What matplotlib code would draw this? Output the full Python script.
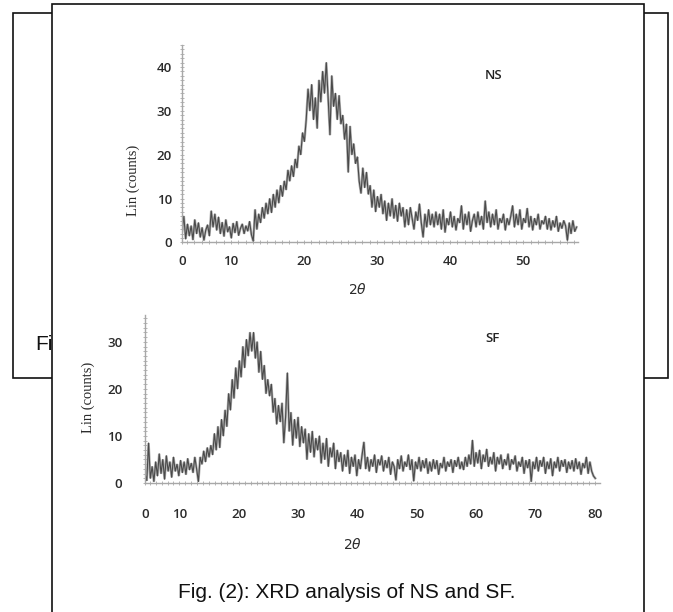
import numpy as np
import matplotlib
matplotlib.use("Agg")
import matplotlib.pyplot as plt
from matplotlib.patches import Rectangle
from matplotlib.ticker import MultipleLocator, FixedLocator, FixedFormatter

# ---------------- data ----------------
ns_start, ns_step = 3.3, 0.25
ns_counts = [
    2.5, 6.0, 0.8, 4.2, 1.5, 3.8, 0.6, 5.2, 2.0, 4.5, 1.2, 3.4, 0.5, 2.8, 4.0, 1.5, 7.2, 3.5, 6.5, 2.8,
    5.8, 2.0, 4.6, 1.4, 5.2, 2.4, 3.6, 1.0, 4.4, 2.2, 4.8, 1.6, 3.2, 4.2, 2.0, 3.8, 2.6, 4.8, 1.8, 0.3,
    7.5, 3.0, 6.5, 4.5, 8.0, 5.5, 9.0, 6.5, 10.0, 6.8, 11.0, 8.0, 12.0, 9.0, 13.0, 10.5, 14.0, 12.0, 16.5, 14.0,
    17.5, 15.0, 19.0, 17.0, 22.0, 20.0, 25.0, 23.0, 28.0, 35.0, 30.0, 36.0, 28.0, 33.0, 26.0, 37.0, 32.0, 39.0, 34.0, 41.0,
    33.0, 24.5, 38.0, 31.0, 34.0, 28.0, 33.5, 27.0, 29.0, 23.5, 27.0, 16.0, 26.5, 20.0, 22.5, 18.0, 19.5, 14.0, 11.2, 17.0,
    12.5, 16.0, 11.0, 13.0, 8.0, 12.0, 7.0, 10.5, 8.0, 11.0, 6.5, 9.5, 5.0, 9.0, 6.0, 10.0, 5.5, 8.5, 4.8, 9.0,
    6.0, 8.0, 3.5, 7.5, 4.0, 8.0, 5.5, 3.0, 7.0, 5.0, 8.8, 4.5, 1.2, 6.5, 3.5, 7.5, 4.0, 6.5, 3.5, 7.0,
    4.0, 6.5, 3.0, 7.5, 2.3, 5.5, 4.0, 7.0, 3.5, 6.0, 2.8, 5.5, 4.5, 8.4, 3.0, 6.5, 4.0, 7.0, 2.5, 5.0,
    6.5, 3.5, 7.0, 4.0, 6.0, 3.0, 9.5, 4.5, 7.0, 3.5, 6.5, 4.0, 7.5, 3.0, 5.5, 4.5, 6.5, 2.8, 5.5, 4.0,
    6.0, 8.4, 3.5, 6.5, 4.0, 7.5, 3.0, 5.5, 4.5, 7.8, 3.5, 6.0, 2.8, 5.5, 4.0, 6.5, 3.0, 5.0, 4.2, 6.0,
    3.0, 5.5, 2.8, 5.0, 3.5, 6.0, 2.5, 4.5, 3.2, 5.0, 3.8, 0.5, 4.5, 2.0, 5.0, 2.5, 3.5,
]

sf_start, sf_step = 4.2, 0.3
sf_counts = [
    2.0, 0.5, 8.5, 1.0, 3.5, 0.3, 4.5, 1.5, 6.2, 2.0, 5.0, 0.8, 5.8, 2.5, 4.5, 1.2, 5.5, 2.5, 4.0, 1.5,
    4.8, 2.2, 4.5, 1.8, 5.2, 2.8, 4.2, 2.2, 5.5, 3.0, 0.3, 5.5, 4.0, 6.8, 4.5, 7.5, 5.5, 8.0, 6.0, 10.5,
    7.0, 12.0, 7.5, 13.5, 10.0, 15.5, 12.0, 19.0, 15.5, 22.0, 18.0, 24.5, 20.0, 26.0, 22.5, 29.0, 24.5, 30.5, 27.0, 32.0,
    28.0, 32.0, 26.5, 30.0, 23.5, 28.0, 22.0, 25.0, 19.0, 22.0, 18.5, 21.0, 15.0, 18.0, 12.5, 16.5, 13.0, 17.0, 8.5, 14.0,
    23.4, 11.0, 15.0, 8.0, 13.5, 9.5, 14.0, 7.7, 12.0, 8.5, 11.5, 5.0, 10.5, 6.5, 11.0, 5.5, 9.5, 7.0, 10.0, 4.2,
    8.5, 5.0, 9.5, 3.5, 7.5, 5.5, 8.5, 3.0, 7.0, 4.5, 6.5, 2.5, 6.0, 3.5, 7.0, 2.0, 5.5, 3.5, 6.0, 1.5,
    5.0, 3.0, 6.0, 8.7, 3.0, 5.5, 2.5, 5.0, 3.5, 6.0, 2.2, 5.0, 3.8, 5.8, 2.5, 4.8, 3.2, 5.5, 1.8, 4.5,
    3.5, 0.6, 5.0, 3.0, 5.8, 2.5, 4.5, 3.5, 6.0, 2.8, 5.0, 0.4, 4.5, 3.0, 5.5, 2.5, 4.8, 3.2, 5.2, 2.0,
    4.5, 2.5, 5.0, 3.0, 4.8, 1.8, 4.2, 3.2, 5.5, 2.5, 4.5, 3.5, 5.0, 2.2, 4.8, 3.5, 5.5, 3.0, 4.5, 2.8,
    5.5, 3.5, 6.0, 4.0, 9.1, 3.5, 6.5, 4.2, 7.0, 3.0, 6.0, 4.5, 7.2, 3.5, 5.5, 4.0, 6.5, 2.5, 5.5, 4.0,
    6.0, 3.0, 5.0, 3.8, 6.2, 2.8, 5.0, 4.0, 5.8, 2.5, 4.5, 3.5, 5.5, 2.0, 4.8, 3.2, 5.0, 0.3, 4.5, 3.0,
    5.5, 2.5, 4.8, 3.5, 5.5, 2.0, 4.5, 3.0, 5.2, 1.5, 4.5, 3.2, 5.5, 2.5, 4.8, 3.5, 5.0, 2.2, 4.5, 3.0,
    4.8, 2.5, 5.2, 3.0, 4.5, 1.8, 4.2, 3.2, 5.5, 2.0, 4.5, 2.5, 1.5, 1.0,
]

ns_theta = ns_start + ns_step * np.arange(len(ns_counts))
sf_theta = sf_start + sf_step * np.arange(len(sf_counts))

ns_tick_pos = [3.3, 10, 20, 30, 40, 50]
ns_tick_lab = ["0", "10", "20", "30", "40", "50"]
ns_ytick = [0, 10, 20, 30, 40]
sf_tick_pos = [4.2, 10, 20, 30, 40, 50, 60, 70, 80]
sf_tick_lab = ["0", "10", "20", "30", "40", "50", "60", "70", "80"]
sf_ytick = [0, 10, 20, 30]

caption = "Fig. (2): XRD analysis of NS and SF."
back_caption = "Fi"

# ---------------- figure ----------------
W, H = 673, 612
fig = plt.figure(figsize=(W / 100, H / 100), dpi=100)
fig.patch.set_facecolor("white")

page = fig.add_axes([0, 0, 1, 1])
page.set_xlim(0, W)
page.set_ylim(H, 0)
page.axis("off")

# back (partially hidden) document box
page.add_patch(Rectangle((13, 13), 655, 365, facecolor="white", edgecolor="#111111", lw=1.2, zorder=1))
page.text(35, 345, back_caption, family=["Liberation Sans", "DejaVu Sans"], fontsize=15,
          va="center", ha="left", color="#111111", zorder=2)
# front box
page.add_patch(Rectangle((51.5, 4), 592, 640, facecolor="white", edgecolor="#111111", lw=1.2, zorder=3))
page.text(347, 593, caption, family=["Liberation Sans", "DejaVu Sans"], fontsize=15,
          va="center", ha="center", color="#111111", zorder=4)


def fx(px):
    return px / W


def fy(py):
    return 1 - py / H


tick_family = ["Open Sans", "DejaVu Sans"]
label_col = "#2b2b2b"
line_dark = "#4a4a4a"
line_light = "#b0b0b0"
axis_col = "#a8a8a8"


def style_axes(ax, xpad, ypad):
    ax.patch.set_visible(False)
    for s in ("top", "right"):
        ax.spines[s].set_visible(False)
    for s in ("left", "bottom"):
        ax.spines[s].set_color(axis_col)
        ax.spines[s].set_linewidth(1.0)
    ax.xaxis.set_minor_locator(MultipleLocator(1))
    ax.yaxis.set_minor_locator(MultipleLocator(1))
    ax.tick_params(which="minor", direction="inout", length=2.5, width=0.6, color=axis_col)
    ax.tick_params(which="major", direction="inout", length=2.5, width=0.6, color=axis_col,
                   labelcolor=label_col, labelsize=9.5)
    ax.tick_params(axis="x", which="major", pad=xpad)
    ax.tick_params(axis="y", which="major", pad=ypad)
    for lab in ax.get_xticklabels() + ax.get_yticklabels():
        lab.set_family(tick_family)
        lab.set_fontweight("semibold")


def draw_trace(ax, x, y):
    ax.plot(x, y, color=line_light, lw=1.8, solid_joinstyle="miter")
    ax.plot(x, y, color=line_dark, lw=0.8)


# ---------------- NS panel ----------------
ax1 = fig.add_axes([fx(182), fy(242.5), fx(578) - fx(182), fy(45) - fy(242.5)])
draw_trace(ax1, ns_theta, ns_counts)
ax1.set_xlim(3.3, 57.5)
ax1.set_ylim(0, 45)
ax1.xaxis.set_major_locator(FixedLocator(ns_tick_pos))
ax1.xaxis.set_major_formatter(FixedFormatter(ns_tick_lab))
ax1.yaxis.set_major_locator(FixedLocator(ns_ytick))
style_axes(ax1, xpad=8, ypad=6)
ax1.set_ylabel("Lin (counts)", family=["Liberation Serif", "DejaVu Serif"], fontsize=10.5, color=label_col)
ax1.yaxis.set_label_coords(-0.106, 0.315)
ax1.text(0.444, -0.239, r"$2\theta$", transform=ax1.transAxes, ha="center", va="center",
         fontsize=10, color=label_col)
ax1.text(0.788, 0.848, "NS", transform=ax1.transAxes, ha="center", va="center",
         family=tick_family, fontweight="semibold", fontsize=9.5, color="#222222")

# ---------------- SF panel ----------------
ax2 = fig.add_axes([fx(145), fy(483), fx(600) - fx(145), fy(315) - fy(483)])
draw_trace(ax2, sf_theta, sf_counts)
ax2.set_xlim(4.2, 80.9)
ax2.set_ylim(0, 35.7)
ax2.xaxis.set_major_locator(FixedLocator(sf_tick_pos))
ax2.xaxis.set_major_formatter(FixedFormatter(sf_tick_lab))
ax2.yaxis.set_major_locator(FixedLocator(sf_ytick))
style_axes(ax2, xpad=17, ypad=15)
ax2.set_ylabel("Lin (counts)", family=["Liberation Serif", "DejaVu Serif"], fontsize=10.5, color=label_col)
ax2.yaxis.set_label_coords(-0.11, 0.512)
ax2.text(0.455, -0.369, r"$2\theta$", transform=ax2.transAxes, ha="center", va="center",
         fontsize=10, color=label_col)
ax2.text(0.763, 0.863, "SF", transform=ax2.transAxes, ha="center", va="center",
         family=tick_family, fontweight="semibold", fontsize=9.5, color="#222222")

fig.savefig("out.png", dpi=100, facecolor="white")
